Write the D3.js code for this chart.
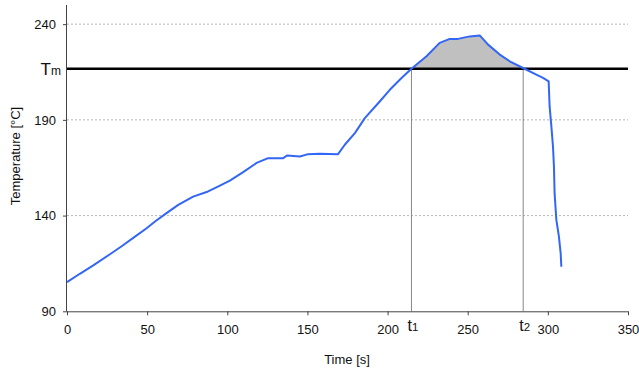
<!DOCTYPE html>
<html><head><meta charset="utf-8">
<script src="https://cdn.jsdelivr.net/npm/d3@7"></script>
<style>body{margin:0;background:#fff}svg{display:block}text{font-family:"Liberation Sans",Arial,sans-serif;fill:#111}</style>
</head><body>
<svg id="c" width="639" height="371"></svg>
<script>
const timeS = [0,8,16.4,26.8,34.1,42.4,49.7,54.9,62.1,69.4,78.7,87.1,95.4,101.6,109.9,118.3,125.5,134.9,137.3,145.3,150.4,157.7,169.1,173.3,179.6,185.8,195.1,201.4,208.7,214.9,224.3,232.5,238.8,243.9,251.2,257.5,262.7,270,276.2,284.5,292.8,297,300.5,301.1,302.2,303.2,303.8,304.2,305.3,306.9,308.0,308.4];
const tempC = [105.2,109.6,114.0,119.8,124.0,129.0,133.4,136.9,141.3,145.6,149.9,152.3,155.7,158.3,162.7,167.5,170.0,170.0,171.4,170.9,172.1,172.3,172.1,177.0,183.1,190.9,199.6,205.7,211.9,216.7,223.2,230.2,232.3,232.3,233.6,234.1,229.3,224.1,220.6,217.1,213.6,211.9,210.1,197.0,186.5,176.1,165.6,151.7,137.8,129.0,120.3,113.3];
const xTicks = [0,50,100,150,200,250,300,350];
const yTicks = [90,140,190,240];
const gridTicks = [140,190,240];
const Tm = 216.7, t1 = 214.9, t2 = 284.6;

const data = timeS.map((t,i)=>({t, T: tempC[i]}));
const svg = d3.select("#c");
const x = d3.scaleLinear().domain([0,350]).range([67,628]);
const y = d3.scaleLinear().domain([90,250]).range([311.3,5]);

// grid
svg.append("g").selectAll("line").data(gridTicks).join("line")
  .attr("x1",x(0)).attr("x2",x(350)).attr("y1",d=>y(d)).attr("y2",d=>y(d))
  .attr("stroke","#b4b4b4").attr("stroke-width",1).attr("stroke-dasharray","2,2");

// shaded area
svg.append("clipPath").attr("id","cl").append("rect")
  .attr("x",x(t1)).attr("width",x(t2)-x(t1)).attr("y",0).attr("height",371);
svg.append("path").datum(data).attr("clip-path","url(#cl)")
  .attr("d",d3.area().x(d=>x(d.t)).y0(y(Tm)).y1(d=>Math.min(y(d.T),y(Tm))))
  .attr("fill","#c0c0c0");

// vertical lines
svg.append("g").selectAll("line").data([t1,t2]).join("line")
  .attr("x1",d=>x(d)).attr("x2",d=>x(d)).attr("y1",y(Tm)).attr("y2",y(90))
  .attr("stroke","#888").attr("stroke-width",1);

// Tm line
svg.append("line").attr("x1",x(0)).attr("x2",x(350)).attr("y1",y(Tm)).attr("y2",y(Tm))
  .attr("stroke","#000").attr("stroke-width",2.5);

// curve
svg.append("path").datum(data)
  .attr("d",d3.line().x(d=>x(d.t)).y(d=>y(d.T)))
  .attr("fill","none").attr("stroke","#3366f5").attr("stroke-width",2).attr("stroke-linejoin","round");

// axes
const xa = svg.append("g").attr("transform",`translate(0,${y(90)})`)
  .call(d3.axisBottom(x).tickValues(xTicks).tickSize(4).tickPadding(9).tickFormat(d3.format("d")));
const ya = svg.append("g").attr("transform",`translate(${x(0)},0)`)
  .call(d3.axisLeft(y).tickValues(yTicks).tickSize(4).tickPadding(7).tickFormat(d3.format("d")));
[xa,ya].forEach(a=>{
  a.select(".domain").attr("stroke","#444").attr("stroke-width",1);
  a.selectAll(".tick line").attr("stroke","#444");
  a.selectAll("text").attr("font-size",13).attr("font-family","Liberation Sans, Arial, sans-serif").attr("fill","#111");
});
ya.select(".domain").attr("d",`M-0.5,${y(250)}V${y(90)}`);
xa.select(".domain").attr("d",`M${x(0)},0.5H${x(350)}`);

// Tm label
const tm = svg.append("text").attr("x",61).attr("y",75).attr("text-anchor","end");
tm.append("tspan").attr("font-size",17).text("T");
tm.append("tspan").attr("font-size",12).text("m");

// t1, t2 labels
[[t1,"1"],[t2,"2"]].forEach(([t,s])=>{
  const tx = svg.append("text").attr("x",x(t)-4).attr("y",331);
  tx.append("tspan").attr("font-size",16).text("t");
  tx.append("tspan").attr("font-size",11.5).text(s);
});

// axis titles
svg.append("text").attr("x",347).attr("y",364).attr("text-anchor","middle").attr("font-size",13).text("Time [s]");
svg.append("text").attr("transform","translate(20,156) rotate(-90)").attr("text-anchor","middle").attr("font-size",13).text("Temperature [°C]");
</script>
</body></html>
